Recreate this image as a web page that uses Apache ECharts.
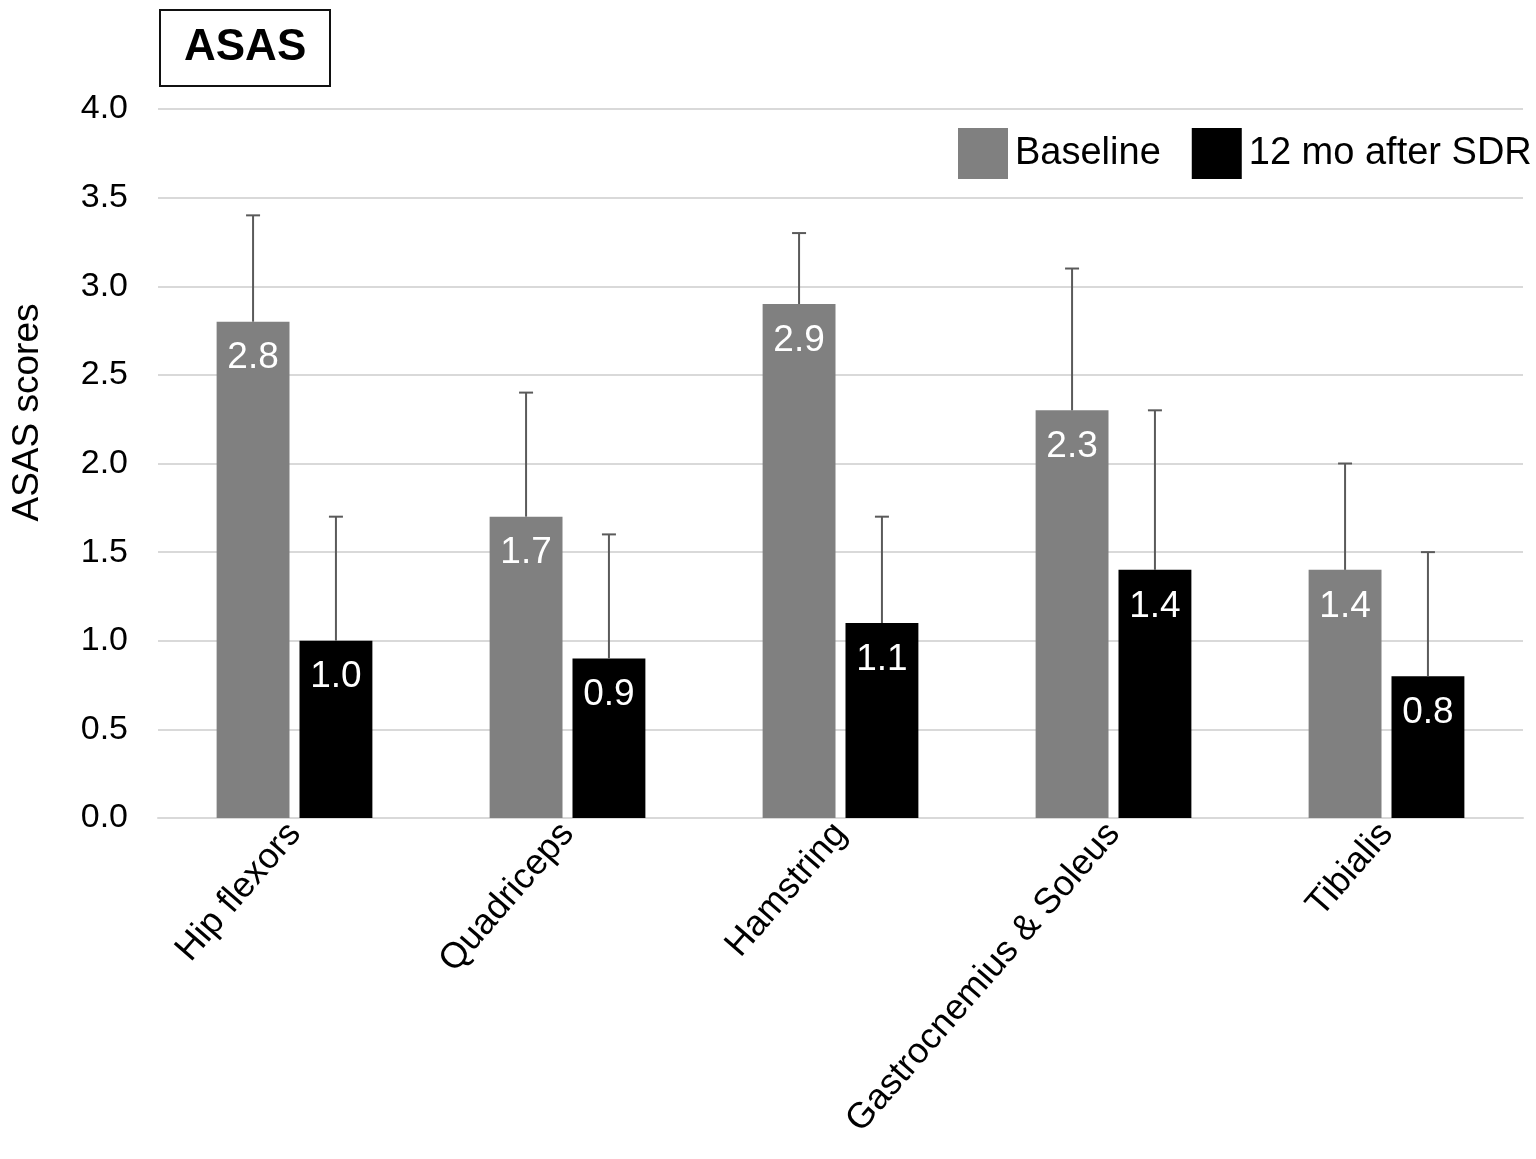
<!DOCTYPE html>
<html>
<head>
<meta charset="utf-8">
<script src="https://cdn.jsdelivr.net/npm/echarts@6/dist/echarts.min.js"></script>
<style>
html,body{margin:0;padding:0;background:#fff;}
#chart{width:1536px;height:1159px;}
</style>
</head>
<body>
<div id="chart"></div>
<script>
var categories = ['Hip flexors', 'Quadriceps', 'Hamstring', 'Gastrocnemius & Soleus', 'Tibialis'];
var baseline = [2.8, 1.7, 2.9, 2.3, 1.4];
var baselineSD = [0.6, 0.7, 0.4, 0.8, 0.6];
var after12 = [1.0, 0.9, 1.1, 1.4, 0.8];
var after12SD = [0.7, 0.7, 0.6, 0.9, 0.7];
var yTicks = [0, 0.5, 1.0, 1.5, 2.0, 2.5, 3.0, 3.5, 4.0];

var BAR_FRAC = 0.267;
var GAP_FRAC = 0.137;
var FONT = 'Liberation Sans, Arial, Helvetica, sans-serif';

function errSeries(name, vals, sds, sign) {
  return {
    type: 'custom',
    name: name,
    z: 10,
    silent: true,
    renderItem: function (params, api) {
      var xi = api.value(0), v = api.value(1), hi = api.value(2);
      var p0 = api.coord([xi, v]);
      var p1 = api.coord([xi, hi]);
      var band = api.size([1, 0])[0];
      var off = sign * band * BAR_FRAC * (1 + GAP_FRAC) / 2;
      var x = p0[0] + off;
      var cap = 7;
      var st = { stroke: '#5a5a5a', lineWidth: 2 };
      return {
        type: 'group',
        children: [
          { type: 'line', shape: { x1: x, y1: p0[1], x2: x, y2: p1[1] }, style: st },
          { type: 'line', shape: { x1: x - cap, y1: p1[1], x2: x + cap, y2: p1[1] }, style: st }
        ]
      };
    },
    data: categories.map(function (c, i) { return [i, vals[i], +(vals[i] + sds[i]).toFixed(2)]; })
  };
}

var chart = echarts.init(document.getElementById('chart'));
chart.setOption({
  backgroundColor: '#ffffff',
  animation: false,
  textStyle: { fontFamily: FONT, color: '#000' },
  title: {
    text: 'ASAS',
    left: 160,
    top: 10,
    padding: [16, 24, 16, 24],
    borderColor: '#111',
    borderWidth: 2,
    textStyle: { fontSize: 44, fontWeight: 'bold', color: '#000', fontFamily: FONT }
  },
  legend: {
    data: ['Baseline', '12 mo after SDR'],
    left: 958,
    top: 128,
    padding: 0,
    icon: 'rect',
    itemWidth: 50,
    itemHeight: 51,
    itemGap: 31,
    textStyle: { fontSize: 38, color: '#000', fontFamily: FONT, padding: [0, 0, 0, 2] }
  },
  grid: { left: 158, right: 13, top: 109, bottom: 341 },
  xAxis: {
    type: 'category',
    data: categories,
    axisLine: { show: true, lineStyle: { color: '#d9d9d9', width: 2 } },
    axisTick: { show: false },
    axisLabel: { rotate: 49, fontSize: 36, color: '#000', margin: 10, interval: 0, fontFamily: FONT }
  },
  yAxis: {
    type: 'value',
    min: yTicks[0],
    max: yTicks[yTicks.length - 1],
    interval: 0.5,
    name: 'ASAS scores',
    nameLocation: 'middle',
    nameRotate: 90,
    nameGap: 112,
    nameTextStyle: { fontSize: 37, color: '#000', fontFamily: FONT, padding: [0, 0, 0, 102] },
    axisLine: { show: false },
    axisTick: { show: false },
    splitLine: { lineStyle: { color: '#d9d9d9', width: 2 } },
    axisLabel: {
      fontSize: 34, color: '#000', margin: 30, fontFamily: FONT,
      formatter: function (v) { return v.toFixed(1); }
    }
  },
  series: [
    {
      type: 'bar',
      name: 'Baseline',
      data: baseline,
      barWidth: (BAR_FRAC * 100) + '%',
      barGap: (GAP_FRAC * 100) + '%',
      itemStyle: { color: '#808080' },
      label: {
        show: true, position: 'insideTop', distance: 18, color: '#fff', fontSize: 37, fontFamily: FONT,
        formatter: function (p) { return p.value.toFixed(1); }
      }
    },
    {
      type: 'bar',
      name: '12 mo after SDR',
      data: after12,
      barWidth: (BAR_FRAC * 100) + '%',
      itemStyle: { color: '#000000' },
      label: {
        show: true, position: 'insideTop', distance: 18, color: '#fff', fontSize: 37, fontFamily: FONT,
        formatter: function (p) { return p.value.toFixed(1); }
      }
    },
    errSeries('Baseline SD', baseline, baselineSD, -1),
    errSeries('12 mo after SDR SD', after12, after12SD, 1)
  ]
});
</script>
</body>
</html>
